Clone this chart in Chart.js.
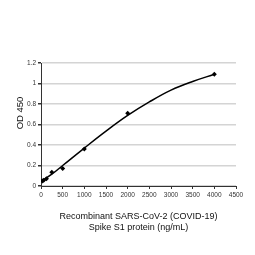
<!DOCTYPE html>
<html>
<head>
<meta charset="utf-8">
<script src="https://cdn.jsdelivr.net/npm/chart.js@4.4.1/dist/chart.umd.min.js"></script>
<style>
  html, body { margin: 0; padding: 0; background: #fff; }
  #wrap { width: 255px; height: 255px; }
</style>
</head>
<body>
<div id="wrap"><canvas id="grafica" width="255" height="255"></canvas></div>
<script>
// Puntos medidos (concentracion ng/mL, OD 450)
const concentraciones = [31.25, 62.5, 125, 250, 500, 1000, 2000, 4000];
const valoresOD = [0.05, 0.055, 0.07, 0.135, 0.17, 0.36, 0.71, 1.09];

// Curva de ajuste
const ajusteX = [0, 250, 500, 1000, 1500, 2000, 2500, 3000, 3500, 4000];
const ajusteY = [0.045, 0.115, 0.2, 0.37, 0.535, 0.688, 0.82, 0.935, 1.02, 1.09];

// Etiquetas de ejes
const ticksX = [0, 500, 1000, 1500, 2000, 2500, 3000, 3500, 4000, 4500];
const ticksY = [0, 0.2, 0.4, 0.6, 0.8, 1, 1.2];
const tituloX = ["Recombinant SARS-CoV-2 (COVID-19)", "Spike S1 protein (ng/mL)"];
const tituloY = "OD 450";

const fuente = "'Liberation Sans', Arial, sans-serif";

// titulo vertical dibujado a mano (no va centrado en el eje)
const tituloEjeY = {
    id: "tituloEjeY",
    afterDraw(chart) {
        const ctx = chart.ctx;
        ctx.save();
        ctx.translate(20, 113);
        ctx.rotate(-Math.PI / 2);
        ctx.font = "9.5px " + fuente;
        ctx.fillStyle = "#111";
        ctx.textAlign = "center";
        ctx.textBaseline = "middle";
        ctx.fillText(tituloY, 0, 0);
        ctx.restore();
    }
};

let puntos = concentraciones.map((c, i) => ({ x: c, y: valoresOD[i] }));
let curva = ajusteX.map((c, i) => ({ x: c, y: ajusteY[i] }));

new Chart(document.getElementById("grafica").getContext("2d"), {
    type: "scatter",
    data: {
        datasets: [{
            label: "ajuste",
            data: curva,
            showLine: true,
            borderColor: "#000",
            borderWidth: 1.5,
            pointRadius: 0,
            tension: 0.4,
            fill: false
        }, {
            label: "medidos",
            data: puntos,
            pointStyle: "rectRot",
            pointRadius: 2.5,
            backgroundColor: "#000",
            borderColor: "#000",
            borderWidth: 0
        }]
    },
    options: {
        responsive: false,
        animation: false,
        layout: { padding: { top: 63, right: 19, left: 0, bottom: 22 } },
        plugins: { legend: { display: false }, tooltip: { enabled: false } },
        scales: {
            x: {
                type: "linear",
                min: 0,
                max: 4500,
                afterBuildTicks: s => { s.ticks = ticksX.map(v => ({ value: v })); },
                afterFit: s => { s.height = 47; },
                ticks: {
                    font: { size: 6.5, family: fuente },
                    color: "#333",
                    padding: 2,
                    maxRotation: 0,
                    autoSkip: false,
                    callback: v => String(v)
                },
                grid: { drawOnChartArea: false, tickLength: 3, tickColor: "#333" },
                border: { color: "#333", width: 1 },
                title: {
                    display: true,
                    text: tituloX,
                    font: { size: 9, family: fuente },
                    color: "#111",
                    padding: { top: 0, bottom: 0 }
                }
            },
            y: {
                min: 0,
                max: 1.2,
                afterBuildTicks: s => { s.ticks = ticksY.map(v => ({ value: v })); },
                afterFit: s => { s.width = 41; },
                ticks: {
                    font: { size: 6.5, family: fuente },
                    color: "#333",
                    padding: 2,
                    callback: v => String(Number(v.toFixed(1)))
                },
                grid: { color: "#d4d4d4", lineWidth: 1.5, tickLength: 3, tickColor: "#333" },
                border: { color: "#333", width: 1 }
            }
        }
    },
    plugins: [tituloEjeY]
});
</script>
</body>
</html>
